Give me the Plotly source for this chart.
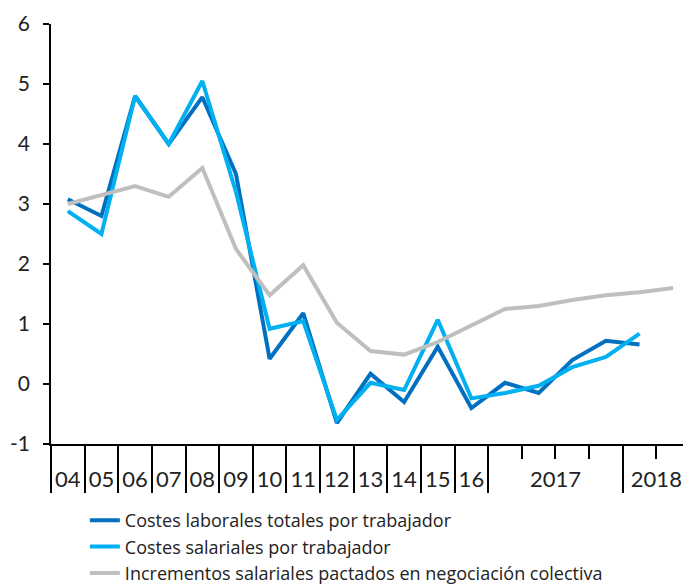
import plotly.graph_objects as go

# Categories (one slot each): years 2004-2016, then quarters 2017 Q1-Q4, 2018 Q1-Q2
periods = ["04", "05", "06", "07", "08", "09", "10", "11", "12", "13", "14", "15", "16",
           "2017-T1", "2017-T2", "2017-T3", "2017-T4", "2018-T1", "2018-T2"]

costes_laborales = [3.08, 2.8, 4.8, 4.0, 4.78, 3.5, 0.42, 1.18, -0.65, 0.17, -0.3, 0.62,
                    -0.4, 0.02, -0.15, 0.4, 0.72, 0.66]
costes_salariales = [2.88, 2.5, 4.8, 4.0, 5.05, 3.2, 0.92, 1.05, -0.6, 0.02, -0.1, 1.07,
                     -0.24, -0.15, -0.03, 0.28, 0.45, 0.84]
incrementos_pactados = [3.0, 3.15, 3.3, 3.12, 3.6, 2.25, 1.48, 1.98, 1.02, 0.55, 0.49, 0.7,
                        0.98, 1.25, 1.3, 1.4, 1.48, 1.53, 1.6]

names = ["Costes laborales totales por trabajador",
         "Costes salariales por trabajador",
         "Incrementos salariales pactados en negociación colectiva"]
colors = ["#0070c0", "#00b0f0", "#bfbfbf"]

# Axis label groups
year_labels = periods[:13]
group_labels = ["2017", "2018"]

y_ticks = [-1, 0, 1, 2, 3, 4, 5, 6]

FONT = "Lato, 'Open Sans', sans-serif"
LEG_FONT = "'Open Sans', Lato, sans-serif"

idx = list(range(len(periods)))
n = len(periods)

# positions of separators / ticks derived from slot indices
year_slots = [i for i, p in enumerate(periods) if "-" not in p]
q_groups = {}
for i, p in enumerate(periods):
    if "-" in p:
        q_groups.setdefault(p.split("-")[0], []).append(i)

long_ticks = [i - 0.5 for i in year_slots] + [g[0] - 0.5 for g in q_groups.values()] + [n - 0.5]
short_ticks = [i - 0.5 for g in q_groups.values() for i in g[1:]]
label_pos = year_slots + [(g[0] + g[-1]) / 2 for g in q_groups.values()]
label_text = year_labels + group_labels

fig = go.Figure()
for vals, name, col in zip([costes_laborales, costes_salariales, incrementos_pactados], names, colors):
    fig.add_trace(go.Scatter(
        x=idx[:len(vals)], y=vals, mode="lines", name=name,
        line=dict(color=col, width=4), hoverinfo="skip"))

# invisible trace for label axis
fig.add_trace(go.Scatter(x=[idx[0], idx[-1]], y=[None, None], xaxis="x2",
                         showlegend=False, hoverinfo="skip"))

# page body has an 8px default margin: figure is sized to fit the 691x584 window
fig.update_layout(
    width=683, height=576,
    margin=dict(l=43, r=1, t=16, b=140, autoexpand=False),
    paper_bgcolor="white", plot_bgcolor="white",
    font=dict(family=FONT, color="#222222"),
    showlegend=True,
    legend=dict(
        orientation="v", x=0.053, y=-0.138, xanchor="left", yanchor="top",
        font=dict(size=18, family=LEG_FONT, color="#222222"),
        bgcolor="rgba(0,0,0,0)", tracegroupgap=0, itemwidth=30,
    ),
    xaxis=dict(
        range=[-0.5, n - 0.5], showgrid=False, zeroline=False, automargin=False,
        showline=True, linecolor="black", linewidth=1.5,
        tickmode="array", tickvals=long_ticks, ticktext=[""] * len(long_ticks),
        ticks="outside", ticklen=47, tickwidth=1.5, tickcolor="black",
        showticklabels=False,
        minor=dict(tickmode="array", tickvals=short_ticks, ticks="outside",
                   ticklen=13, tickwidth=1.5, tickcolor="black", showgrid=False),
    ),
    xaxis2=dict(
        overlaying="x", anchor="y", side="bottom", range=[-0.5, n - 0.5],
        showgrid=False, zeroline=False, showline=False, automargin=False,
        tickmode="array", tickvals=label_pos, ticktext=label_text,
        ticks="", ticklabelstandoff=20,
        tickfont=dict(size=22, family=FONT, color="#222222"),
    ),
    yaxis=dict(
        range=[-1, 6], showgrid=False, zeroline=False, automargin=False,
        showline=True, linecolor="black", linewidth=1.5,
        tickmode="array", tickvals=y_ticks, ticktext=[str(v) for v in y_ticks],
        ticks="outside", ticklen=6, tickwidth=1.5, tickcolor="black",
        ticklabelstandoff=9,
        tickfont=dict(size=21, family=FONT, color="#222222"),
    ),
)

fig.write_html("out.html")
